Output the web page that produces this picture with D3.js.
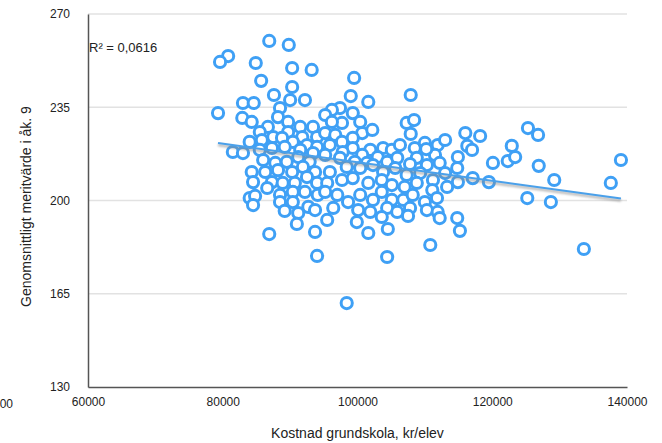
<!DOCTYPE html>
<html><head><meta charset="utf-8">
<script src="https://cdn.jsdelivr.net/npm/d3@7"></script>
<style>
html,body{margin:0;padding:0;background:#fff;}
svg text{font-family:"Liberation Sans",Arial,Helvetica,sans-serif;fill:#222;}
</style></head>
<body>
<svg id="c" width="662" height="443"></svg>
<script>
// Kostnad grundskola (kr/elev)
const cost = [86900,89800,80800,79600,84900,90300,93200,85700,90300,99500,99000,101600,107900,79300,83000,84600,87600,90000,92200,88500,
82900,84300,88200,89700,91500,86700,85500,87500,89700,91800,93400,94000,84000,85800,88800,90400,92500,94000,81500,83000,
85500,87300,89200,91500,93400,86000,87800,89500,91200,92900,84300,86300,88200,90300,91900,93700,84500,87300,88900,90700,
92500,94000,84000,86600,88500,90400,92200,94100,88500,90400,92700,89200,91200,93700,84800,84500,91000,95500,93700,86900,
94000,98400,97400,96200,95200,99300,97700,96200,100400,100700,102200,107300,108400,107900,95200,96700,97700,99300,95900,99300,
101900,103800,105100,106300,97800,100700,95200,97400,99600,101400,103000,104400,105900,108500,110000,111900,113000,108800,110300,111500,
112200,107800,113000,95900,98400,100400,102300,103800,105600,107300,109300,111200,95500,97700,99300,101600,103600,105100,107000,108800,
111100,95200,97000,98600,100400,102300,103600,105100,106800,108200,110000,111800,96400,100100,101900,104400,105900,107800,110300,111900,
99900,101600,103600,107500,104500,112200,114800,115200,110800,104400,110200,113300,116000,118200,116300,117000,114900,114800,120100,122300,
122900,123400,125300,126800,126900,129200,137600,139100,117100,119500,114900,125200,128700,133600];
// Genomsnittligt meritvärde i åk. 9
const merit = [259.9,258.4,254.2,252.0,251.6,249.7,249.0,244.9,242.6,246.0,239.2,237.0,239.6,232.8,236.6,236.6,239.6,237.7,237.7,234.7,
231.0,229.5,231.3,229.5,227.6,227.6,225.7,223.8,225.7,223.8,227.6,223.8,222.0,222.7,223.5,222.0,220.8,220.1,218.2,217.8,
219.0,219.7,220.1,219.0,217.8,215.2,214.1,214.5,216.3,214.5,210.7,210.7,211.4,210.7,212.6,210.7,206.9,206.9,206.6,206.6,
208.8,206.6,200.9,204.7,202.1,203.2,203.2,202.1,199.4,199.4,197.6,196.1,195.3,196.4,201.7,198.3,191.2,192.7,188.2,187.4,
179.2,161.5,234.7,234.0,232.1,232.8,229.1,229.5,229.5,225.3,226.5,229.1,230.2,225.0,225.3,224.6,222.0,223.5,220.8,219.7,
219.0,219.7,219.0,220.8,218.2,217.1,217.1,216.0,214.5,214.1,216.3,214.5,216.0,219.7,221.6,220.8,222.7,216.0,213.3,217.1,
214.1,213.7,210.3,210.7,212.6,212.2,213.3,210.7,212.2,209.6,210.3,207.7,206.6,207.7,208.4,206.6,207.7,205.8,205.1,206.6,
203.9,203.2,202.1,199.4,202.1,200.2,203.2,200.2,200.2,202.1,199.4,200.9,197.2,196.4,195.7,197.2,195.7,197.2,196.4,195.7,
191.9,187.8,193.8,194.2,189.3,193.4,193.4,188.6,183.3,178.8,219.3,205.1,225.3,224.2,220.5,219.0,216.3,212.2,214.1,214.8,
220.5,216.3,227.2,224.6,213.0,207.7,206.6,215.2,208.4,206.9,206.9,200.9,199.4,181.8];
const xTicks = [60000,80000,100000,120000,140000];
const yTicks = [130,165,200,235,270];
const r2Label = "R² = 0,0616";
const xTitle = "Kostnad grundskola, kr/elev";
const yTitle = "Genomsnittligt meritvärde i åk. 9";
const strayLabel = "40000";

const svg = d3.select("#c");
const L = 88, R = 627, T = 14, B = 387;
const x = d3.scaleLinear().domain([60000,140000]).range([L,R]);
const y = d3.scaleLinear().domain([130,270]).range([B,T]);

// gridlines
svg.append("g").selectAll("line").data(yTicks.filter(d=>d>130)).join("line")
  .attr("x1",L).attr("x2",R).attr("y1",d=>y(d)).attr("y2",d=>y(d))
  .attr("stroke","#e2e2e2").attr("stroke-width",1.5);

// axes
const yAxis = d3.axisLeft(y).tickValues(yTicks).tickSize(0).tickPadding(18);
const gy = svg.append("g").attr("transform",`translate(${L},0)`).call(yAxis);
gy.select(".domain").attr("stroke","#555").attr("stroke-width",1.5);
gy.selectAll("text").attr("font-size",12).attr("fill","#222");

const xAxis = d3.axisBottom(x).tickValues(xTicks).tickSize(0).tickPadding(10).tickFormat(d3.format("d"));
const gx = svg.append("g").attr("transform",`translate(0,${B})`).call(xAxis);
gx.select(".domain").attr("stroke","#555").attr("stroke-width",1.5);
gx.selectAll("text").attr("font-size",12).attr("fill","#222");

// partially visible label at the left edge, as in the reference
svg.append("text").attr("x",13).attr("y",B+21).attr("text-anchor","end")
  .attr("font-size",12).text(strayLabel);

// titles
svg.append("text").attr("x",(L+R)/2).attr("y",438).attr("text-anchor","middle")
  .attr("font-size",14).text(xTitle);
svg.append("text").attr("transform",`translate(31,${(T+B)/2+6}) rotate(-90)`)
  .attr("text-anchor","middle").attr("font-size",14).text(yTitle);
svg.append("text").attr("x",L+1).attr("y",52).attr("font-size",13).text(r2Label);

// regression
const n = cost.length;
const mx = d3.mean(cost), my = d3.mean(merit);
let sxy=0,sxx=0;
for(let i=0;i<n;i++){sxy+=(cost[i]-mx)*(merit[i]-my);sxx+=(cost[i]-mx)**2;}
const slope = sxy/sxx, icpt = my - slope*mx;
const x0 = d3.min(cost), x1 = d3.max(cost);

const defs = svg.append("defs");
defs.append("filter").attr("id","blur").append("feGaussianBlur").attr("stdDeviation",1);

// points
const pts = cost.map((c,i)=>({c,m:merit[i]}));
svg.append("g").selectAll("circle").data(pts).join("circle")
  .attr("cx",d=>x(d.c)).attr("cy",d=>y(d.m)).attr("r",5.6)
  .attr("fill","#fff").attr("stroke","#3fa0f5").attr("stroke-width",3);

// trend line with shadow
svg.append("line").attr("x1",x(x0)).attr("x2",x(x1))
  .attr("y1",y(icpt+slope*x0)+2).attr("y2",y(icpt+slope*x1)+2)
  .attr("stroke","#888").attr("stroke-width",2.5).attr("opacity",0.6).attr("filter","url(#blur)");
svg.append("line").attr("x1",x(x0)).attr("x2",x(x1))
  .attr("y1",y(icpt+slope*x0)).attr("y2",y(icpt+slope*x1))
  .attr("stroke","#4aa0ea").attr("stroke-width",2);
</script>
</body></html>
